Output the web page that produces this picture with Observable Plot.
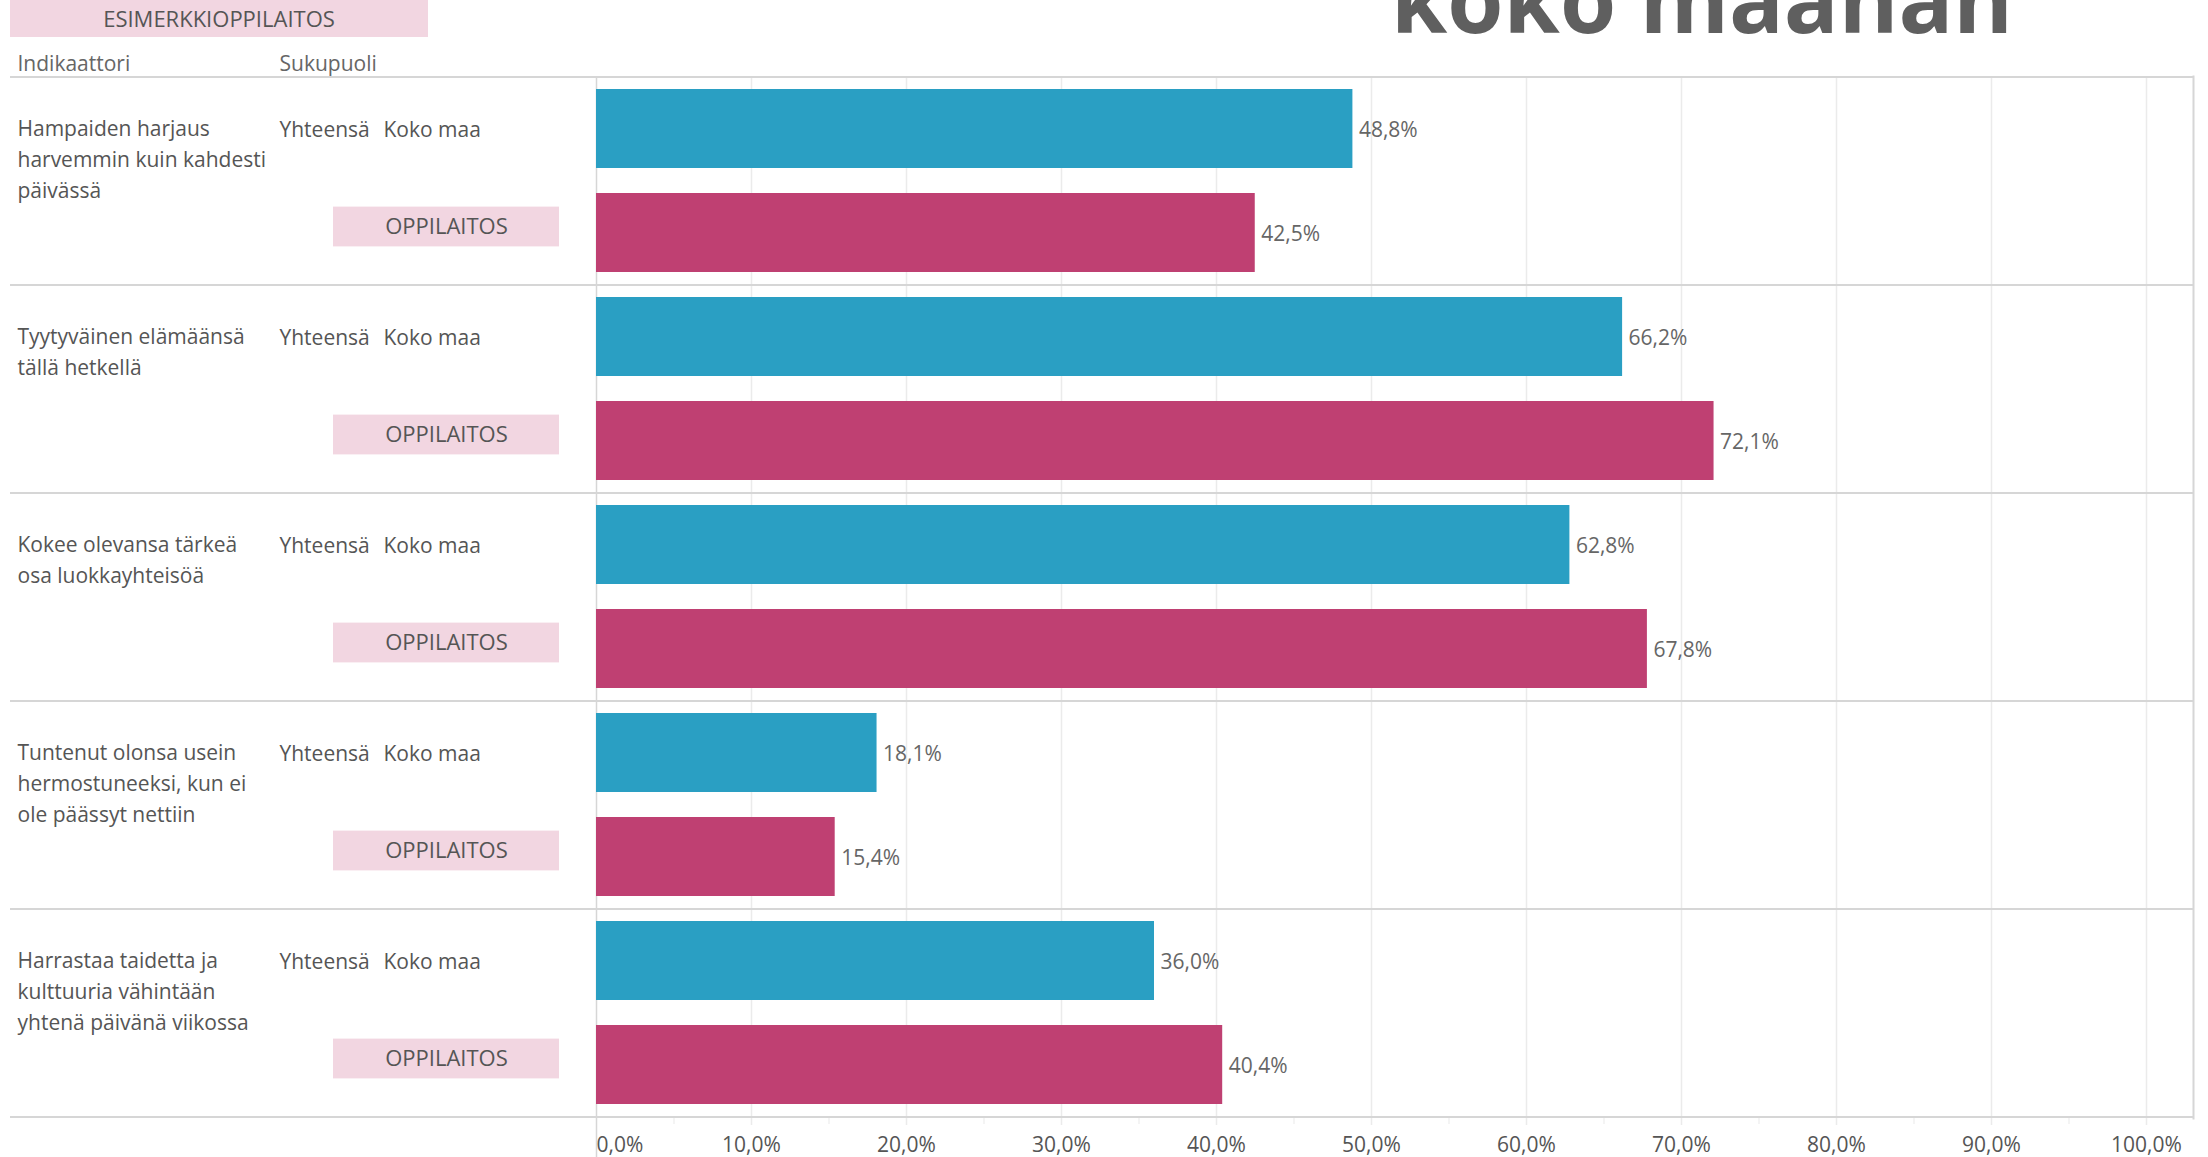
<!DOCTYPE html>
<html>
<head>
<meta charset="utf-8">
<script src="https://cdn.jsdelivr.net/npm/d3@7"></script>
<script src="https://cdn.jsdelivr.net/npm/@observablehq/plot@0.6"></script>
<style>
  html, body { margin: 0; padding: 0; background: #fff; }
  #wrap { position: relative; width: 2208px; height: 1157px; overflow: hidden; font-family: "Open Sans", sans-serif; }
  #chart { position: absolute; left: 0; top: 0; }
  #school { position: absolute; left: 10px; top: 0; width: 418px; height: 37px; background: #f2d6e1; color: #555;
            font-size: 22px; line-height: 37px; text-align: center; }
  #title { position: absolute; left: 0; top: 0; }
</style>
</head>
<body>
<div id="wrap">
  <div id="chart"></div>
  <div id="school">ESIMERKKIOPPILAITOS</div>
  <svg id="title" width="2208" height="60">
    <text x="1391" y="33" font-family="Open Sans" font-weight="700" font-size="92" fill="#5f5f5f"
          textLength="622" lengthAdjust="spacingAndGlyphs">koko maahan</text>
  </svg>
</div>
<script>
// ---- data ----
const indicators = [
  "Hampaiden harjaus\nharvemmin kuin kahdesti\npäivässä",
  "Tyytyväinen elämäänsä\ntällä hetkellä",
  "Kokee olevansa tärkeä\nosa luokkayhteisöä",
  "Tuntenut olonsa usein\nhermostuneeksi, kun ei\nole päässyt nettiin",
  "Harrastaa taidetta ja\nkulttuuria vähintään\nyhtenä päivänä viikossa"
];
const series = ["Koko maa", "Oppilaitos"];
const kokoMaa = [48.8, 66.2, 62.8, 18.1, 36.0];
const oppilaitos = [42.5, 72.1, 67.8, 15.4, 40.4];
const genderLabel = "Yhteensä";
const overlayLabel = "OPPILAITOS";
const headerLabels = ["Indikaattori", "Sukupuoli"];
const xTicks = [0, 10, 20, 30, 40, 50, 60, 70, 80, 90, 100];
const minorTicks = [5, 15, 25, 35, 45, 55, 65, 75, 85, 95];

// ---- table ----
const rows = [];
indicators.forEach((ind, i) => {
  rows.push({key: i + "|" + series[0], indicator: ind, series: series[0], value: kokoMaa[i]});
  rows.push({key: i + "|" + series[1], indicator: ind, series: series[1], value: oppilaitos[i]});
});
const blueRows = rows.filter(d => d.series === series[0]);
const pinkRows = rows.filter(d => d.series === series[1]);

const W = 2208, H = 1157, mT = 76, mB = 39, mL = 10, mR = 15;
const step = (H - mT - mB) / rows.length;
const fmt = v => d3.format(".1f")(v).replace(".", ",") + "%";
const txt = "#555";
const sep = "#d6d6d6";

const plot = Plot.plot({
  width: W, height: H,
  marginTop: mT, marginBottom: mB, marginLeft: mL, marginRight: mR,
  style: {fontFamily: "'Open Sans', sans-serif", fontSize: "21px", color: txt, background: "white", overflow: "visible"},
  x: {domain: [0, 100], range: [596, 2146], axis: null, label: null},
  y: {domain: rows.map(d => d.key), paddingInner: 0.24, paddingOuter: 0.12, axis: null},
  color: {domain: series, range: ["#2a9fc3", "#bf4072"]},
  marks: [
    // grid lines (extend slightly below the frame as ticks)
    Plot.ruleX(xTicks.slice(1), {stroke: "#ebebeb", strokeWidth: 1.5, insetBottom: -7}),
    Plot.ruleX(minorTicks, {stroke: "#ededed", strokeWidth: 1.2, insetTop: H - mT - mB, insetBottom: -6}),
    // left axis line
    Plot.ruleX([0], {stroke: sep, strokeWidth: 1.5, insetBottom: -mB}),
    // right border
    Plot.frame({anchor: "right", stroke: sep, strokeWidth: 2}),
    // row separators
    Plot.ruleY(blueRows, {y: "key", dy: -step / 2, stroke: sep, strokeWidth: 2}),
    Plot.ruleY(pinkRows.slice(-1), {y: "key", dy: step / 2, stroke: sep, strokeWidth: 2}),
    // bars
    Plot.barX(rows, {x: "value", y: "key", fill: "series"}),
    Plot.text(rows, {x: "value", y: "key", text: d => fmt(d.value), textAnchor: "start", dx: 6, dy: 1, fill: "#666", fontSize: 21}),
    // x axis labels
    Plot.axisX([xTicks[0]], {anchor: "bottom", label: null, tickSize: 0, tickPadding: 19, tickFormat: fmt, textAnchor: "start", color: txt, fontSize: 21}),
    Plot.axisX(xTicks.slice(1), {anchor: "bottom", label: null, tickSize: 0, tickPadding: 19, tickFormat: fmt, color: txt, fontSize: 21}),
    // header labels
    Plot.text([headerLabels[0]], {frameAnchor: "top-left", text: d => d, dx: 7, dy: -20, fill: "#666", fontSize: 21, textAnchor: "start"}),
    Plot.text([headerLabels[1]], {frameAnchor: "top-left", text: d => d, dx: 269, dy: -20, fill: "#666", fontSize: 21, textAnchor: "start"}),
    // row headers
    Plot.text(blueRows, {y: "key", text: "indicator", frameAnchor: "left", dx: 7, dy: -14.5, lineAnchor: "top",
                         lineHeight: 1.46, textAnchor: "start", fill: txt, fontSize: 21}),
    Plot.text(blueRows, {y: "key", text: () => genderLabel, frameAnchor: "left", dx: 269, dy: 1, textAnchor: "start", fill: txt, fontSize: 21}),
    Plot.text(blueRows, {y: "key", text: "series", frameAnchor: "left", dx: 373, dy: 1, textAnchor: "start", fill: txt, fontSize: 21}),
    // OPPILAITOS overlay boxes
    Plot.cell(pinkRows, {y: "key", fill: "#f2d6e1", insetLeft: 323, insetRight: 1634, insetTop: 13.6, insetBottom: 25.6}),
    Plot.text(pinkRows, {y: "key", text: () => overlayLabel, frameAnchor: "left", dx: 436, dy: -6, textAnchor: "middle", fill: txt, fontSize: 22})
  ]
});
document.getElementById("chart").appendChild(plot);
</script>
</body>
</html>
